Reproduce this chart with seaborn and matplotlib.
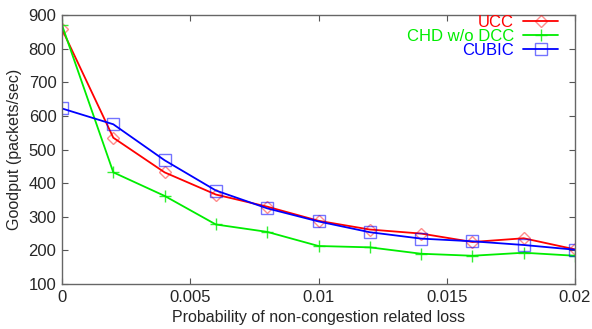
import matplotlib
matplotlib.use("Agg")
import matplotlib.pyplot as plt
import seaborn as sns
import pandas as pd

loss_prob = [0.0, 0.002, 0.004, 0.006, 0.008, 0.010, 0.012, 0.014, 0.016, 0.018, 0.020]
ucc = [858, 535, 432, 366, 330, 288, 262, 250, 225, 236, 203]
chd_wo_dcc = [870, 432, 362, 277, 255, 213, 209, 190, 184, 193, 184]
cubic = [622, 575, 468, 378, 325, 286, 254, 235, 227, 216, 202]

series_names = ["UCC", "CHD w/o DCC", "CUBIC"]
xticks = [0, 0.005, 0.01, 0.015, 0.02]
xtick_labels = ["0", "0.005", "0.01", "0.015", "0.02"]
yticks = [100, 200, 300, 400, 500, 600, 700, 800, 900]

sns.set_style("ticks")
plt.rcParams['font.family'] = ['Liberation Sans', 'DejaVu Sans']

fig = plt.figure(figsize=(5.92, 3.29), dpi=100)
ax = fig.add_axes([62/592, 1-284/329, (575-62)/592, (284-15)/329])

styles = [
    dict(color=(1, 0, 0), marker='D', ms=6, mec=(1, 0, 0, 0.45)),
    dict(color=(0, 0.93, 0), marker='+', ms=9, mec=(0, 0.93, 0, 0.8)),
    dict(color=(0, 0, 1), marker='s', ms=8, mec=(0, 0, 1, 0.55)),
]
for name, vals, st in zip(series_names, [ucc, chd_wo_dcc, cubic], styles):
    df = pd.DataFrame({"x": loss_prob, "y": vals})
    sns.lineplot(data=df, x="x", y="y", ax=ax, label=name, color=st["color"],
                 marker=st["marker"], markersize=st["ms"], mfc='none',
                 mec=st["mec"], mew=1.0, linewidth=1.3)

ax.set_xlim(0, 0.02)
ax.set_ylim(100, 900)
ax.set_xticks(xticks)
ax.set_xticklabels(xtick_labels)
ax.set_yticks(yticks)
ax.tick_params(direction='in', top=True, right=True, labelsize=12, length=4,
               color='#555555', pad=4)
for s in ax.spines.values():
    s.set_color('#666666')
    s.set_linewidth(1.0)
ax.set_xlabel("Probability of non-congestion related loss", fontsize=11.5, labelpad=4)
ax.set_ylabel("Goodput (packets/sec)", fontsize=11.5, labelpad=5)

leg = ax.legend(loc='upper right', frameon=False, markerfirst=False,
                labelcolor='linecolor', fontsize=12, handlelength=2.1,
                handletextpad=0.55, labelspacing=-0.05, borderaxespad=0.0,
                bbox_to_anchor=(0.98, 1.025))

fig.savefig("out.png", dpi=100)
